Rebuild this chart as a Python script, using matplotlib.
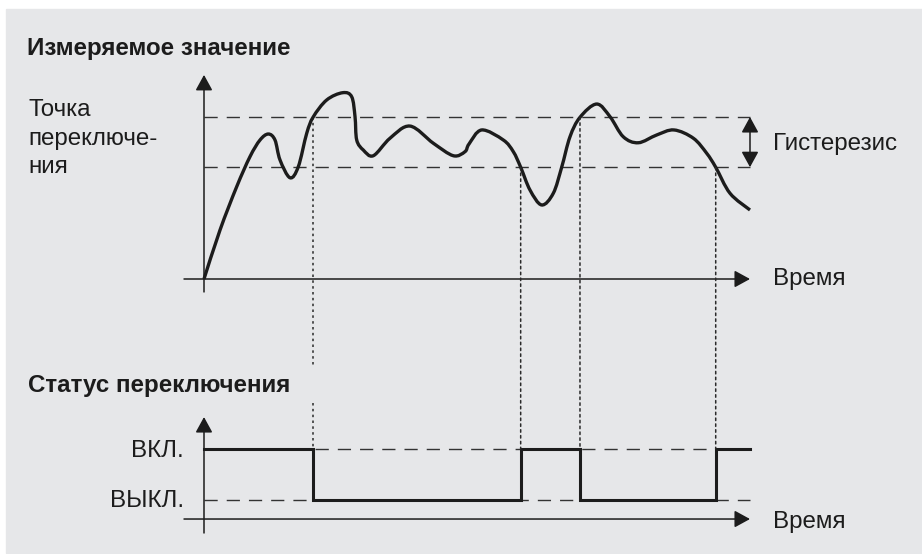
#%% -- imports --
import numpy as np
import matplotlib
matplotlib.use('Agg')
import matplotlib.pyplot as plt
from matplotlib.path import Path
from matplotlib.patches import PathPatch, Rectangle, ConnectionPatch

plt.rcParams['font.family'] = ['Liberation Sans', 'DejaVu Sans']
plt.rcParams['lines.scale_dashes'] = False

#%% -- data --
# measured value vs time (time 0..10, value in % of upper switch point)
t_curve = [0.0, 0.293, 0.599, 0.842, 1.026, 1.178, 1.300, 1.392, 1.575, 1.727,
           1.881, 2.000, 2.247, 2.540, 2.705, 2.766, 2.797, 2.918, 3.101, 3.407,
           3.773, 4.200, 4.566, 4.780, 4.853, 5.086, 5.482, 5.665, 5.800, 5.971,
           6.185, 6.397, 6.551, 6.703, 6.886, 7.192, 7.436, 7.679, 7.954, 8.291,
           8.608, 8.962, 9.207, 9.372, 9.634, 10.0]
v_curve = [0.0, 30.2, 57.0, 75.5, 85.8, 89.5, 85.8, 73.5, 62.5, 69.3,
           89.9, 100.0, 110.5, 115.0, 112.5, 100.2, 85.8, 79.6, 76.1, 86.9,
           94.4, 83.8, 76.1, 78.6, 83.3, 92.0, 85.8, 78.6, 69.0, 54.9,
           45.7, 52.9, 69.0, 87.8, 99.8, 108.0, 100.2, 87.8, 84.1, 88.9,
           92.0, 86.9, 77.6, 69.0, 52.9, 42.6]

upper_thr = 100
lower_thr = 69

# switching status: 1 = ВКЛ., 0 = ВЫКЛ.
t_switch = [0.0, 2.000, 5.800, 6.886, 9.372, 10.0]
state = [1, 0, 1, 0, 1]
switch_thr = [upper_thr, lower_thr, upper_thr, lower_thr]

title_top = 'Измеряемое значение'
title_bot = 'Статус переключения'
setpoint_lines = ['Точка', 'переключе-', 'ния']
hyst_label = 'Гистерезис'
time_label = 'Время'
state_labels = ['ВКЛ.', 'ВЫКЛ.']

#%% -- layout helpers --
W, H = 922, 554
ink = '#1c1c1c'
bg = '#e6e7e9'

def fx(x):
    return x / W

def fy(y):
    return 1 - y / H

fig = plt.figure(figsize=(W / 100, H / 100), dpi=100)
fig.patch.set_facecolor('white')
fig.patches.append(Rectangle((fx(6), fy(553)), 1 - fx(6), fy(9) - fy(553),
                             transform=fig.transFigure, color=bg, zorder=-5))

# top panel: box spans time 0..10 and value 0..upper_thr
ax1 = fig.add_axes([fx(204), fy(279), fx(750) - fx(204), fy(117) - fy(279)])
ax1.set_xlim(0, 10)
ax1.set_ylim(0, upper_thr)
# status panel: box spans time 0..10 and state 0..1
ax2 = fig.add_axes([fx(204), fy(500), fx(750) - fx(204), fy(449) - fy(500)])
ax2.set_xlim(0, 10)
ax2.set_ylim(0, 1)
for ax in (ax1, ax2):
    ax.set_axis_off()

dash = dict(color='#333333', lw=1.0, dashes=(9.5, 6.5))
dotstyle = dict(linestyle=(0, (1.8, 2.4)), color='#2a2a2a', lw=1.1)
arrow = dict(arrowstyle='-|>,head_length=0.95,head_width=0.52', mutation_scale=10,
             color=ink, lw=1.1, shrinkA=0, shrinkB=0)

#%% -- top panel --
ax1.plot([0, 10], [upper_thr, upper_thr], clip_on=False, **dash)
ax1.plot([0, 10], [lower_thr, lower_thr], clip_on=False, **dash)

# smooth curve through the read points (Catmull-Rom as cubic Bezier)
pts = np.column_stack([t_curve, v_curve])
ext = np.vstack([pts[0], pts, pts[-1]])
verts = [pts[0]]
codes = [Path.MOVETO]
for i in range(1, len(ext) - 2):
    p0, p1, p2, p3 = ext[i - 1], ext[i], ext[i + 1], ext[i + 2]
    verts += [p1 + (p2 - p0) / 6, p2 - (p3 - p1) / 6, p2]
    codes += [Path.CURVE4] * 3
ax1.add_patch(PathPatch(Path(verts, codes), fill=False, lw=2.4, color=ink,
                        capstyle='butt', clip_on=False, zorder=3))

ax1.annotate('', xy=(0, 126), xytext=(0, -8), arrowprops=arrow, annotation_clip=False)
ax1.annotate('', xy=(10, 0), xytext=(-0.366, 0), arrowprops=arrow, annotation_clip=False)
ax1.annotate('', xy=(10, lower_thr), xytext=(10, upper_thr), annotation_clip=False,
             arrowprops=dict(arrow, arrowstyle='<|-|>,head_length=0.95,head_width=0.52'))

#%% -- status panel --
ax2.plot([0, 10], [1, 1], clip_on=False, **dash)
ax2.plot([0, 10], [0, 0], clip_on=False, **dash)
ax2.plot(t_switch, state + [state[-1]], drawstyle='steps-post', color=ink, lw=2.2,
         solid_joinstyle='miter', clip_on=False, zorder=3)
ax2.annotate('', xy=(0, 1.627), xytext=(0, -0.647), arrowprops=arrow, annotation_clip=False)
ax2.annotate('', xy=(10, -0.373), xytext=(-0.366, -0.373), arrowprops=arrow, annotation_clip=False)

# dotted links from threshold crossings down to the status line
for i, (ts, thr) in enumerate(zip(t_switch[1:-1], switch_thr)):
    if i == 0:
        # gap around the second title
        ax1.plot([ts, ts], [thr, -53], clip_on=False, **dotstyle)
        ax2.plot([ts, ts], [1.9, 1], clip_on=False, **dotstyle)
    else:
        fig.add_artist(ConnectionPatch((ts, thr), (ts, 1), 'data', 'data',
                                       axesA=ax1, axesB=ax2, annotation_clip=False,
                                       **dotstyle))

#%% -- text --
fs = 17.4
fig.text(fx(27), fy(55), title_top, fontsize=fs, fontweight='bold', color=ink, va='baseline')
fig.text(fx(28), fy(392), title_bot, fontsize=fs, fontweight='bold', color=ink, va='baseline')
for line, yb in zip(setpoint_lines, [116, 145, 173]):
    fig.text(fx(28), fy(yb), line, fontsize=fs, color=ink, va='baseline')
fig.text(fx(773), fy(150), hyst_label, fontsize=fs, color=ink, va='baseline')
fig.text(fx(773), fy(285), time_label, fontsize=fs, color=ink, va='baseline')
fig.text(fx(773), fy(528), time_label, fontsize=fs, color=ink, va='baseline')
fig.text(fx(184), fy(457), state_labels[0], fontsize=fs, color=ink, va='baseline', ha='right')
fig.text(fx(184), fy(507), state_labels[1], fontsize=fs, color=ink, va='baseline', ha='right')

fig.savefig('out.png', dpi=100)
